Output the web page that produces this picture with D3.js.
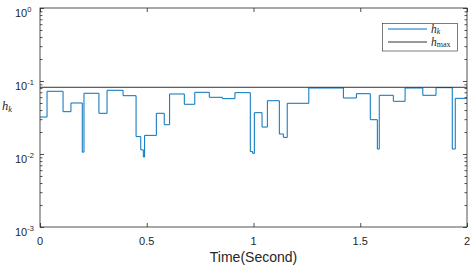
<!DOCTYPE html>
<html><head><meta charset="utf-8">
<script src="https://cdn.jsdelivr.net/npm/d3@7"></script>
<style>body{margin:0;background:#fff}svg{display:block}</style>
</head><body>
<svg id="c" width="471" height="269"></svg>
<script>
// ---- data ----
const stepStarts = [0, 0.033, 0.108, 0.145, 0.198, 0.206, 0.276, 0.314, 0.389, 0.450, 0.472, 0.484, 0.490, 0.545, 0.582, 0.607, 0.676, 0.725, 0.793, 0.854, 0.913, 0.985, 0.996, 1.004, 1.040, 1.065, 1.121, 1.140, 1.158, 1.259, 1.421, 1.482, 1.547, 1.580, 1.589, 1.655, 1.710, 1.793, 1.855, 1.931, 1.945];
const hkValues = [0.0321, 0.0723, 0.0380, 0.0500, 0.0106, 0.0679, 0.0361, 0.0746, 0.0629, 0.0173, 0.0114, 0.0091, 0.0180, 0.0361, 0.0252, 0.0664, 0.0480, 0.0700, 0.0598, 0.0573, 0.0692, 0.0108, 0.0102, 0.0368, 0.0234, 0.0537, 0.0188, 0.0169, 0.0495, 0.0802, 0.0585, 0.0670, 0.0295, 0.0117, 0.0637, 0.0527, 0.0802, 0.0637, 0.0810, 0.0117, 0.0579];
const tEnd = 2;
const hmax = 0.082;
const xTicks = [0, 0.5, 1, 1.5, 2];
const xTickLabels = ["0", "0.5", "1", "1.5", "2"];
const yMajor = [1e-3, 1e-2, 1e-1, 1];
const yExponents = ["-3", "-2", "-1", "0"];

// ---- layout ----
const L = 40, R = 467, T = 8, B = 227;
const svg = d3.select("#c");
const x = d3.scaleLinear().domain([0, 2]).range([L, R]);
const y = d3.scaleLog().domain([1e-3, 1]).range([B, T]);
const axisColor = "#262626";

svg.append("defs").append("clipPath").attr("id", "clip")
  .append("rect").attr("x", L).attr("y", T).attr("width", R - L).attr("height", B - T);

// series
const pts = stepStarts.map((t, i) => [t, hkValues[i]]);
pts.push([tEnd, hkValues[hkValues.length - 1]]);
const line = d3.line().x(d => x(d[0])).y(d => y(d[1])).curve(d3.curveStepAfter);
const plot = svg.append("g").attr("clip-path", "url(#clip)");
plot.append("path").attr("d", line(pts)).attr("fill", "none")
  .attr("stroke", "#0072BD").attr("stroke-width", 1);
plot.append("line").attr("x1", x(0)).attr("x2", x(2)).attr("y1", y(hmax)).attr("y2", y(hmax))
  .attr("stroke", "#333").attr("stroke-width", 1);

// axes ticks
const minor = y.ticks().filter(v => !yMajor.some(m => Math.abs(m - v) / v < 1e-6));
function styleAxis(g) {
  g.select(".domain").remove();
  g.selectAll("line").attr("stroke", axisColor).attr("stroke-width", 0.8);
  g.selectAll("text").remove();
}
svg.append("g").attr("transform", `translate(0,${B})`)
  .call(d3.axisBottom(x).tickValues(xTicks).tickSize(-4).tickSizeOuter(0)).call(styleAxis);
svg.append("g").attr("transform", `translate(0,${T})`)
  .call(d3.axisTop(x).tickValues(xTicks).tickSize(-4).tickSizeOuter(0)).call(styleAxis);
svg.append("g").attr("transform", `translate(${L},0)`)
  .call(d3.axisLeft(y).tickValues(yMajor).tickSize(-4).tickSizeOuter(0)).call(styleAxis);
svg.append("g").attr("transform", `translate(${R},0)`)
  .call(d3.axisRight(y).tickValues(yMajor).tickSize(-4).tickSizeOuter(0)).call(styleAxis);
svg.append("g").attr("transform", `translate(${L},0)`)
  .call(d3.axisLeft(y).tickValues(minor).tickSize(-2.5).tickSizeOuter(0)).call(styleAxis);
svg.append("g").attr("transform", `translate(${R},0)`)
  .call(d3.axisRight(y).tickValues(minor).tickSize(-2.5).tickSizeOuter(0)).call(styleAxis);

svg.append("rect").attr("x", L).attr("y", T).attr("width", R - L).attr("height", B - T)
  .attr("fill", "none").attr("stroke", axisColor).attr("stroke-width", 0.8);

// tick labels
const font = "Liberation Sans, Arial, Helvetica, sans-serif";
xTicks.forEach((v, i) => {
  svg.append("text").attr("x", x(v)).attr("y", B + 18).attr("text-anchor", "middle")
    .attr("font-family", font).attr("font-size", 11).attr("fill", axisColor).text(xTickLabels[i]);
});
yMajor.forEach((v, i) => {
  const t = svg.append("text").attr("x", 15).attr("y", y(v) + 8.5)
    .attr("font-family", font).attr("font-size", 11).attr("fill", axisColor);
  t.append("tspan").text("10");
  t.append("tspan").attr("dy", -5).attr("font-size", 7.5).text(yExponents[i]);
});

// axis labels
svg.append("text").attr("x", (L + R) / 2).attr("y", 262).attr("text-anchor", "middle")
  .attr("font-family", font).attr("font-size", 14).attr("fill", axisColor).text("Time(Second)");
const serif = "Liberation Serif, Times New Roman, serif";
const yl = svg.append("text").attr("x", 2).attr("y", 110).attr("font-family", serif)
  .attr("font-size", 12.5).attr("fill", axisColor);
yl.append("tspan").attr("font-style", "italic").text("h");
yl.append("tspan").attr("font-style", "italic").attr("font-size", 8.5).attr("dy", 2).text("k");

// legend
const lg = svg.append("g");
lg.append("rect").attr("x", 382.5).attr("y", 23.5).attr("width", 75).attr("height", 27.5)
  .attr("fill", "#fff").attr("stroke", axisColor).attr("stroke-width", 0.6);
lg.append("line").attr("x1", 388).attr("x2", 427).attr("y1", 29).attr("y2", 29)
  .attr("stroke", "#0072BD").attr("stroke-width", 1);
lg.append("line").attr("x1", 388).attr("x2", 427).attr("y1", 42).attr("y2", 42)
  .attr("stroke", "#333").attr("stroke-width", 1);
const t1 = lg.append("text").attr("x", 431).attr("y", 32.5).attr("font-family", serif)
  .attr("font-size", 11.5).attr("fill", axisColor);
t1.append("tspan").attr("font-style", "italic").text("h");
t1.append("tspan").attr("font-style", "italic").attr("font-size", 8).attr("dy", 1.5).text("k");
const t2 = lg.append("text").attr("x", 431).attr("y", 45.5).attr("font-family", serif)
  .attr("font-size", 11.5).attr("fill", axisColor);
t2.append("tspan").attr("font-style", "italic").text("h");
t2.append("tspan").attr("font-size", 8).attr("dy", 1.5).text("max");
</script>
</body></html>
